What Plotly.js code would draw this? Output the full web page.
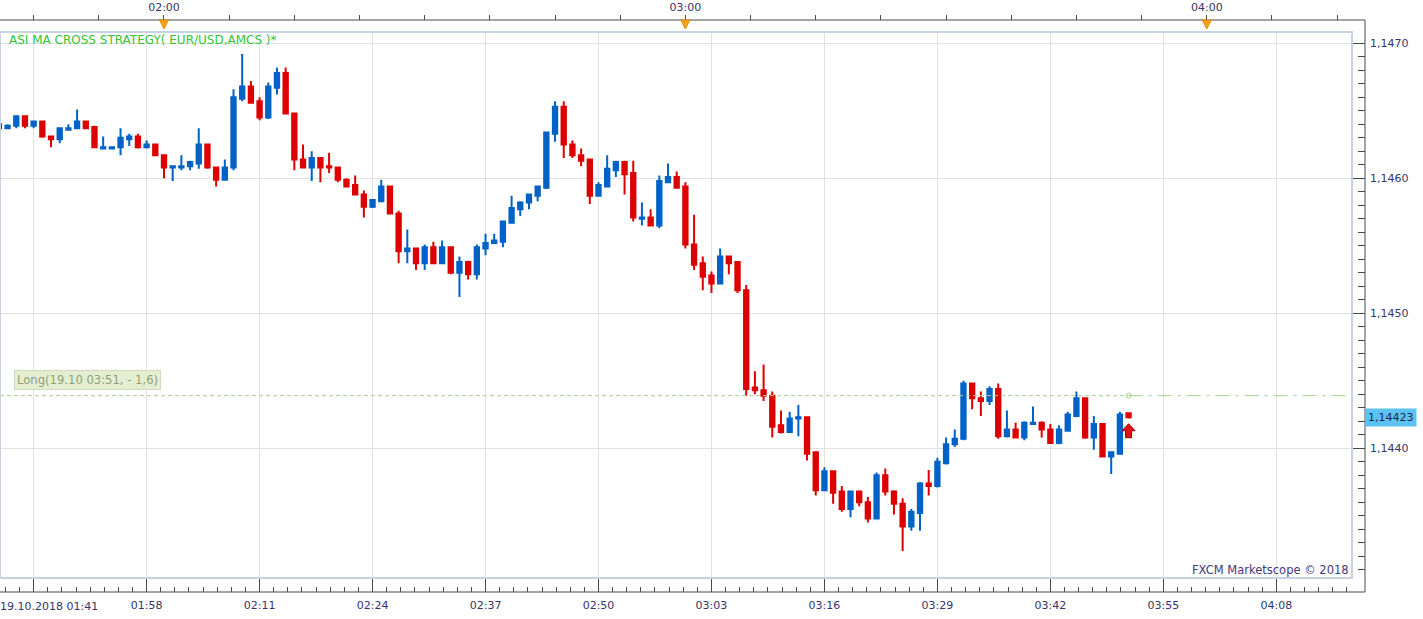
<!DOCTYPE html>
<html>
<head>
<meta charset="utf-8">
<script src="https://cdn.plot.ly/plotly-3.0.1.min.js"></script>
<style>html,body{margin:0;padding:0;background:#fff;overflow:hidden}#chart{width:1423px;height:619px}</style>
</head>
<body>
<div id="chart"></div>
<script>
const day = '2018-10-19 ';
const times = [
'01:41','01:42','01:43','01:44','01:45','01:46','01:47','01:48','01:49','01:50','01:51','01:52','01:53','01:54','01:55','01:56','01:57','01:58','01:59',
'02:00','02:01','02:02','02:03','02:04','02:05','02:06','02:07','02:08','02:09','02:10','02:11','02:12','02:13','02:14','02:15','02:16','02:17','02:18','02:19',
'02:20','02:21','02:22','02:23','02:24','02:25','02:26','02:27','02:28','02:29','02:30','02:31','02:32','02:33','02:34','02:35','02:36','02:37','02:38','02:39',
'02:40','02:41','02:42','02:43','02:44','02:45','02:46','02:47','02:48','02:49','02:50','02:51','02:52','02:53','02:54','02:55','02:56','02:57','02:58','02:59',
'03:00','03:01','03:02','03:03','03:04','03:05','03:06','03:07','03:08','03:09','03:10','03:11','03:12','03:13','03:14','03:15','03:16','03:17','03:18','03:19',
'03:20','03:21','03:22','03:23','03:24','03:25','03:26','03:27','03:28','03:29','03:30','03:31','03:32','03:33','03:34','03:35','03:36','03:37','03:38','03:39',
'03:40','03:41','03:42','03:43','03:44','03:45','03:46','03:47','03:48','03:49','03:50','03:51'];

const open = [
1.14640,1.14637,1.14639,1.14646,1.14639,1.14642,1.14631,1.14629,1.14636,1.14637,1.14642,1.14638,1.14622,1.14622,1.14623,1.14629,1.14631,1.14623,1.14625,
1.14617,1.14608,1.14608,1.14609,1.14611,1.14625,1.14608,1.14599,1.14608,1.14659,1.14668,1.14657,1.14645,1.14667,1.14678,1.14648,1.14614,1.14608,1.14615,1.14609,
1.14608,1.14599,1.14595,1.14588,1.14579,1.14583,1.14594,1.14574,1.14546,1.14548,1.14537,1.14549,1.14537,1.14549,1.14530,1.14538,1.14529,1.14548,1.14552,1.14553,
1.14567,1.14577,1.14582,1.14587,1.14593,1.14633,1.14653,1.14625,1.14617,1.14614,1.14587,1.14594,1.14606,1.14612,1.14604,1.14570,1.14571,1.14565,1.14597,1.14601,
1.14594,1.14551,1.14537,1.14528,1.14522,1.14542,1.14538,1.14517,1.14445,1.14443,1.14439,1.14417,1.14412,1.14422,1.14423,1.14397,1.14369,1.14383,1.14368,1.14355,
1.14368,1.14360,1.14348,1.14380,1.14368,1.14359,1.14342,1.14352,1.14374,1.14372,1.14389,1.14403,1.14407,1.14448,1.14437,1.14435,1.14444,1.14409,1.14414,1.14408,
1.14418,1.14419,1.14414,1.14404,1.14413,1.14424,1.14437,1.14408,1.14418,1.14394,1.14396,1.14426];

const high = [
1.14641,1.14640,1.14646,1.14646,1.14642,1.14642,1.14631,1.14637,1.14640,1.14651,1.14642,1.14639,1.14631,1.14623,1.14637,1.14633,1.14633,1.14628,1.14625,
1.14617,1.14609,1.14617,1.14613,1.14637,1.14625,1.14608,1.14614,1.14666,1.14692,1.14672,1.14660,1.14671,1.14682,1.14682,1.14648,1.14625,1.14620,1.14615,1.14619,
1.14608,1.14600,1.14602,1.14591,1.14584,1.14599,1.14594,1.14576,1.14562,1.14548,1.14551,1.14553,1.14554,1.14549,1.14542,1.14539,1.14551,1.14559,1.14559,1.14568,
1.14587,1.14583,1.14588,1.14594,1.14634,1.14657,1.14657,1.14628,1.14622,1.14614,1.14597,1.14617,1.14613,1.14613,1.14613,1.14582,1.14577,1.14602,1.14611,1.14605,
1.14597,1.14573,1.14542,1.14531,1.14548,1.14542,1.14538,1.14521,1.14457,1.14462,1.14442,1.14428,1.14427,1.14432,1.14423,1.14397,1.14386,1.14383,1.14372,1.14368,
1.14368,1.14364,1.14382,1.14385,1.14369,1.14363,1.14355,1.14375,1.14384,1.14393,1.14408,1.14414,1.14450,1.14448,1.14442,1.14446,1.14448,1.14428,1.14419,1.14420,
1.14431,1.14420,1.14418,1.14417,1.14427,1.14442,1.14437,1.14424,1.14418,1.14397,1.14427,1.14426];

const low = [
1.14636,1.14637,1.14637,1.14637,1.14637,1.14630,1.14623,1.14626,1.14636,1.14637,1.14637,1.14623,1.14622,1.14622,1.14617,1.14624,1.14622,1.14622,1.14617,
1.14600,1.14598,1.14606,1.14606,1.14607,1.14607,1.14594,1.14599,1.14606,1.14657,1.14656,1.14643,1.14644,1.14662,1.14648,1.14606,1.14608,1.14598,1.14597,1.14604,
1.14597,1.14594,1.14588,1.14571,1.14578,1.14583,1.14574,1.14537,1.14537,1.14532,1.14532,1.14537,1.14537,1.14529,1.14512,1.14525,1.14525,1.14543,1.14552,1.14549,
1.14567,1.14572,1.14577,1.14583,1.14592,1.14627,1.14615,1.14615,1.14609,1.14581,1.14587,1.14594,1.14601,1.14588,1.14568,1.14565,1.14565,1.14563,1.14597,1.14593,
1.14548,1.14532,1.14517,1.14515,1.14522,1.14529,1.14515,1.14439,1.14440,1.14435,1.14408,1.14411,1.14412,1.14409,1.14391,1.14365,1.14369,1.14359,1.14353,1.14349,
1.14357,1.14345,1.14348,1.14365,1.14351,1.14324,1.14339,1.14339,1.14365,1.14371,1.14388,1.14401,1.14406,1.14429,1.14424,1.14432,1.14407,1.14408,1.14408,1.14406,
1.14418,1.14408,1.14404,1.14403,1.14413,1.14423,1.14407,1.14399,1.14394,1.14381,1.14396,1.14422];

const close = [
1.14637,1.14639,1.14646,1.14639,1.14642,1.14631,1.14629,1.14637,1.14637,1.14642,1.14637,1.14623,1.14623,1.14623,1.14630,1.14631,1.14623,1.14625,1.14617,
1.14608,1.14609,1.14609,1.14612,1.14625,1.14608,1.14599,1.14608,1.14660,1.14668,1.14656,1.14645,1.14668,1.14678,1.14648,1.14614,1.14608,1.14615,1.14608,1.14608,
1.14599,1.14594,1.14588,1.14579,1.14584,1.14594,1.14574,1.14546,1.14548,1.14537,1.14549,1.14537,1.14549,1.14530,1.14538,1.14529,1.14549,1.14552,1.14554,1.14568,
1.14578,1.14582,1.14588,1.14594,1.14634,1.14653,1.14625,1.14617,1.14613,1.14587,1.14595,1.14607,1.14612,1.14603,1.14571,1.14571,1.14565,1.14598,1.14601,1.14593,
1.14551,1.14536,1.14527,1.14522,1.14542,1.14537,1.14517,1.14444,1.14443,1.14439,1.14416,1.14412,1.14422,1.14423,1.14396,1.14369,1.14383,1.14367,1.14355,1.14368,
1.14360,1.14348,1.14380,1.14368,1.14359,1.14342,1.14353,1.14374,1.14372,1.14390,1.14403,1.14407,1.14448,1.14437,1.14435,1.14444,1.14409,1.14414,1.14408,1.14419,
1.14419,1.14414,1.14404,1.14414,1.14425,1.14437,1.14408,1.14418,1.14394,1.14397,1.14425,1.14423];

const xTickTimes  = ['01:45','01:58','02:11','02:24','02:37','02:50','03:03','03:16','03:29','03:42','03:55','04:08'];
const xTickLabels = ['','01:58','02:11','02:24','02:37','02:50','03:03','03:16','03:29','03:42','03:55','04:08'];
const hourTimes  = ['02:00','03:00','04:00'];
const hourLabels = ['02:00','03:00','04:00'];
const yTicks = [1.1440, 1.1450, 1.1460, 1.1470];
const dateLabel = '19.10.2018 01:41';
const strategyTitle = 'ASI MA CROSS STRATEGY( EUR/USD,AMCS )*';
const entryLabel = 'Long(19.10 03:51, - 1,6)';
const entryTime = '03:51';
const entryPrice = 1.14439;
const signalPrice = 1.14413;
const lastPrice = 1.14423;
const watermark = 'FXCM Marketscope \u00A9 2018';

const xRange = [day + '01:41:07.7', day + '04:16:42.6'];
const yRange = [1.1430393, 1.1470837];
const X = t => day + t;

const BLUE = '#0062c6', RED = '#dd0000', GREEN_LINE = '#a9d18f', AX = '#4a4a4a', TXT = '#35356b';

const traces = [
  {
    type: 'candlestick',
    x: times.map(X), open: open, high: high, low: low, close: close,
    increasing: {line: {color: BLUE, width: 2}, fillcolor: BLUE},
    decreasing: {line: {color: RED, width: 2}, fillcolor: RED},
    whiskerwidth: 0, hoverinfo: 'skip', showlegend: false
  },
  {
    type: 'scatter', mode: 'lines', xaxis: 'x2', yaxis: 'y',
    x: [xRange[0], X(entryTime)], y: [entryPrice, entryPrice],
    line: {color: GREEN_LINE, width: 1, dash: '4px,3px'}, hoverinfo: 'skip'
  },
  {
    type: 'scatter', mode: 'lines', xaxis: 'x2', yaxis: 'y',
    x: [X(entryTime), xRange[1]], y: [entryPrice, entryPrice],
    line: {color: GREEN_LINE, width: 1, dash: '14px,6px,3px,6px'}, hoverinfo: 'skip'
  },
  {
    type: 'scatter', mode: 'markers', xaxis: 'x2', yaxis: 'y',
    x: [X(entryTime)], y: [entryPrice],
    marker: {symbol: 'circle-open', size: 5, color: GREEN_LINE, line: {width: 1}}, hoverinfo: 'skip'
  }
];

const triShapes = hourTimes.map(t => ({
  type: 'path', xref: 'x', xsizemode: 'pixel', xanchor: X(t),
  yref: 'paper', ysizemode: 'pixel', yanchor: 1,
  path: 'M-4.5,0 L4.5,0 L0,-9 Z',
  fillcolor: '#f7a11a', line: {color: '#e58f00', width: 1}, layer: 'above'
}));

const signalArrow = {
  type: 'path', xref: 'x', xsizemode: 'pixel', xanchor: X(entryTime),
  yref: 'y', ysizemode: 'pixel', yanchor: signalPrice,
  path: 'M-6.5,0 L0,7 L6.5,0 L3,0 L3,-7 L-3,-7 L-3,0 Z',
  fillcolor: '#dc1414', line: {color: '#9a0000', width: 1}, layer: 'above'
};

const layout = {
  width: 1423, height: 619,
  margin: {l: 0, r: 58, t: 20, b: 27, pad: 0},
  paper_bgcolor: '#ffffff', plot_bgcolor: '#ffffff',
  separators: ',.',
  showlegend: false,
  hovermode: false,
  boxgap: 0.5, boxgroupgap: 0,
  font: {family: 'DejaVu Sans, Verdana, sans-serif', size: 11, color: TXT},
  xaxis: {
    type: 'date', domain: [0, 1352 / 1365], anchor: 'free', position: 0,
    range: xRange, rangeslider: {visible: false},
    tickmode: 'array', tickvals: xTickTimes.map(X), ticktext: xTickLabels,
    ticks: 'inside', ticklen: 14, tickcolor: AX, tickwidth: 1,
    showgrid: true, gridcolor: '#e2e2e2', gridwidth: 1,
    showline: false, zeroline: false,
    ticklabelstandoff: 5,
    tickfont: {size: 11, color: TXT},
    minor: {tick0: X('01:45'), dtick: 97500, ticks: 'inside', ticklen: 5, tickcolor: AX, showgrid: false}
  },
  xaxis2: {
    type: 'date', overlaying: 'x', side: 'top', anchor: 'free', position: 1,
    range: xRange,
    tickmode: 'array', tickvals: hourTimes.map(X), ticktext: hourLabels,
    ticks: 'outside', ticklen: 5, tickcolor: AX, tickwidth: 1,
    showgrid: false, showline: false, zeroline: false,
    tickfont: {size: 11, color: TXT},
    minor: {tick0: X('01:45'), dtick: 450000, ticks: 'outside', ticklen: 5, tickcolor: AX, showgrid: false}
  },
  yaxis: {
    domain: [14 / 572, 560 / 572], side: 'right', anchor: 'free', position: 1,
    range: yRange,
    tickmode: 'array', tickvals: yTicks, tickformat: '.4f',
    ticks: 'inside', ticklen: 14, tickcolor: AX, tickwidth: 1,
    showgrid: true, gridcolor: '#e2e2e2', gridwidth: 1,
    showline: false, zeroline: false,
    ticklabelstandoff: 4,
    tickfont: {size: 11, color: TXT},
    minor: {tick0: 1.1400, dtick: 0.0001, ticks: 'inside', ticklen: 7, tickcolor: AX, showgrid: false}
  },
  shapes: [
    {type: 'rect', xref: 'paper', yref: 'paper', x0: 0, x1: 1352 / 1365, y0: 14 / 572, y1: 560 / 572,
     line: {color: '#c9d2e2', width: 2}, layer: 'above'},
    {type: 'line', xref: 'paper', yref: 'paper', x0: 0, x1: 1, y0: 1, y1: 1, line: {color: AX, width: 1}},
    {type: 'line', xref: 'paper', yref: 'paper', x0: 0, x1: 1, y0: 0, y1: 0, line: {color: AX, width: 1}},
    {type: 'line', xref: 'paper', yref: 'paper', x0: 1, x1: 1, y0: 0, y1: 1, line: {color: AX, width: 1}}
  ].concat(triShapes, [signalArrow]),
  annotations: [
    {xref: 'paper', yref: 'paper', x: 7 / 1365, y: 560 / 572, xanchor: 'left', yanchor: 'top', yshift: 1,
     text: strategyTitle, showarrow: false, font: {size: 12, color: '#35c435'}},
    {xref: 'paper', yref: 'paper', x: 0, y: 0, xanchor: 'left', yanchor: 'top', yshift: -6, xshift: -2,
     text: dateLabel, showarrow: false, font: {size: 11, color: TXT}},
    {xref: 'paper', yref: 'paper', x: 1351 / 1365, y: 14 / 572, xanchor: 'right', yanchor: 'bottom', yshift: -1,
     text: watermark, showarrow: false, font: {size: 11.5, color: '#44397a'}},
    {xref: 'paper', yref: 'y', x: 14 / 1365, y: entryPrice, xanchor: 'left', yanchor: 'bottom', yshift: 6,
     text: entryLabel, showarrow: false, bgcolor: '#e3eed3', bordercolor: '#cddcb9', borderwidth: 1, borderpad: 2,
     font: {size: 11.6, color: '#8da276'}},
    {xref: 'paper', yref: 'y', x: 1, y: lastPrice, xanchor: 'left', yanchor: 'middle', xshift: 0,
     text: lastPrice.toFixed(5).replace('.', ','), showarrow: false, bgcolor: '#5cc2f4', borderpad: 2,
     font: {size: 11, color: '#1c2a4a'}}
  ]
};

Plotly.newPlot('chart', traces, layout, {displayModeBar: false, staticPlot: true});
</script>
</body>
</html>
